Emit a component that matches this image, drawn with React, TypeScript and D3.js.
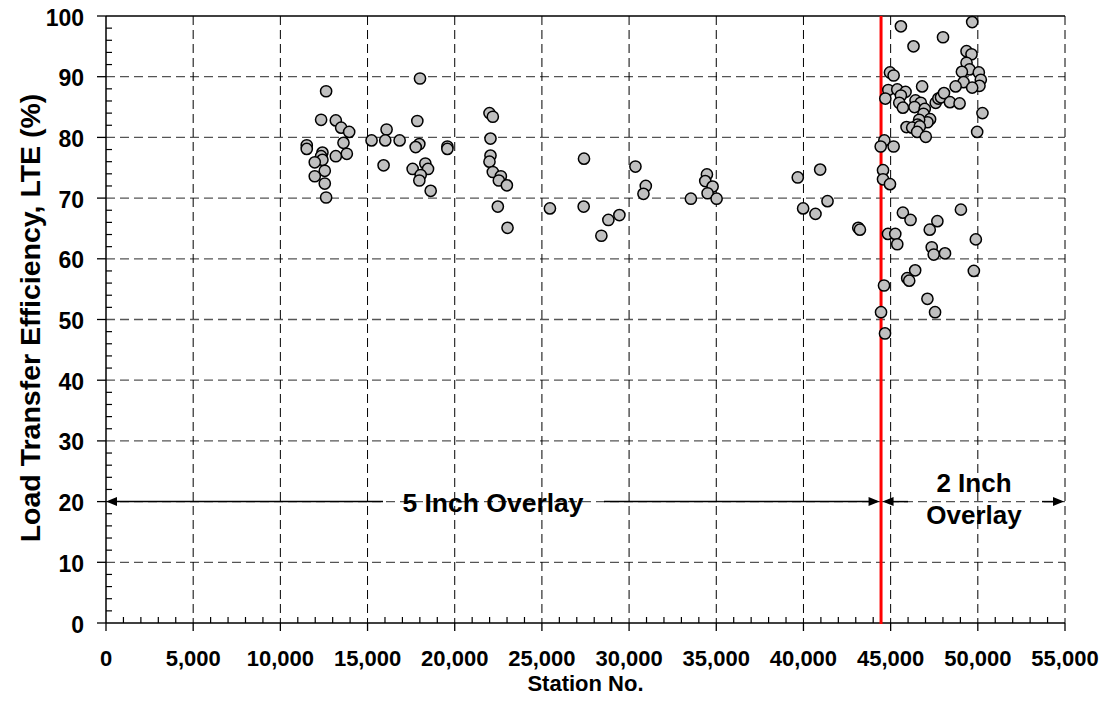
import React from "react";
import * as d3 from "d3";

const stationNo: number[] = [
  11513, 11513, 12624, 12337, 13180, 13486, 13946, 13620, 13812, 13180, 12413, 12337, 12413, 11973, 12547, 11973, 12547, 12624,
  15230, 16092, 16015, 16840, 15920,
  18008, 17855, 17970, 17760, 18315, 18468, 17587, 18047, 17970, 18621, 19579, 19579,
  21993, 22185, 22051, 22051, 21993, 22185, 22645, 22530, 22990, 22472, 23028,
  25460, 27414, 27395, 28812, 29444, 28410, 30364, 30958, 30824, 33544, 34464, 34368, 34790, 34502, 35019,
  39674, 40958, 39981, 40690, 41380, 43142, 43238,
  44639, 44430, 45171, 44563, 44563, 44962, 44620, 44449, 44677, 44848, 45266, 45380,
  45589, 49677, 48004, 46312, 49353, 49638, 49353, 49524, 49087, 50057, 50171, 49182, 50095, 49677, 48726,
  44962, 45171, 44867, 44696, 45380, 45855, 45589, 46806, 45494, 45703, 46426, 46730, 46369, 46958,
  47585, 47737, 47889, 48060, 48403, 48954, 46882, 47262, 47110, 46635, 46540, 45912, 46236, 46673, 46521, 47015,
  50266, 49962,
  45703, 46141, 47680, 47243, 49030, 49886, 47357, 47471, 48117, 49772, 46407, 45950, 46065, 47110, 47547,
];

const lteValues: number[] = [
  78.7, 78.1, 87.6, 82.9, 82.8, 81.6, 80.9, 79.1, 77.3, 76.9, 77.5, 76.9, 76.3, 75.9, 74.5, 73.6, 72.4, 70.1,
  79.5, 81.3, 79.5, 79.5, 75.4,
  89.7, 82.7, 78.9, 78.4, 75.7, 74.8, 74.8, 73.8, 72.9, 71.2, 78.5, 78.1,
  84.0, 83.4, 79.8, 77.0, 76.0, 74.3, 73.6, 72.9, 72.1, 68.6, 65.1,
  68.3, 76.5, 68.6, 66.4, 67.2, 63.8, 75.2, 72.0, 70.7, 69.9, 73.9, 72.8, 71.9, 70.8, 69.9,
  73.4, 74.7, 68.3, 67.4, 69.5, 65.1, 64.8,
  79.5, 78.5, 78.5, 74.6, 73.1, 72.3, 55.6, 51.2, 47.7, 64.1, 64.1, 62.4,
  98.3, 99.0, 96.5, 95.0, 94.2, 93.7, 92.3, 91.2, 90.8, 90.7, 89.5, 89.1, 88.5, 88.2, 88.4,
  90.7, 90.2, 87.8, 86.4, 87.9, 87.5, 86.9, 88.4, 85.7, 84.9, 86.1, 85.7, 85.0, 84.7,
  85.7, 86.4, 86.6, 87.3, 85.8, 85.6, 83.9, 83.0, 82.5, 82.9, 82.1, 81.7, 81.6, 81.8, 80.9, 80.1,
  84.0, 80.9,
  67.6, 66.4, 66.2, 64.8, 68.1, 63.2, 61.9, 60.7, 60.9, 58.0, 58.1, 56.8, 56.4, 53.4, 51.2,
];

const xTicks: number[] = [0, 5000, 10000, 15000, 20000, 25000, 30000, 35000, 40000, 45000, 50000, 55000];
const yTicks: number[] = [0, 10, 20, 30, 40, 50, 60, 70, 80, 90, 100];
const overlayBoundary = 44450;
const arrowLevel = 20;

const W = 1107;
const H = 713;
const L = 106, R = 1065, T = 16, B = 623;
const FONT = "'Liberation Sans', Arial, sans-serif";

export default function App() {
  const x = d3.scaleLinear().domain([0, 55000]).range([L, R]);
  const y = d3.scaleLinear().domain([0, 100]).range([B, T]);
  const xMinor = d3.range(0, 55001, 1000).filter((v) => v % 5000 !== 0);
  const yMinor = d3.range(0, 101, 2).filter((v) => v % 10 !== 0);
  const fmt = d3.format(",");
  const ay = y(arrowLevel);
  const xb = x(overlayBoundary);

  const head = (tipX: number, dir: number) => {
    const len = 11, hw = 4.5;
    return `M${tipX},${ay} L${tipX - dir * len},${ay - hw} L${tipX - dir * len},${ay + hw} Z`;
  };

  return (
    <svg width={W} height={H} style={{ position: "absolute", left: 0, top: 0, background: "#fff" }}>
      {/* horizontal gridlines */}
      {yTicks.filter((v) => v > 0 && v < 100).map((v) => (
        <line key={"hg" + v} x1={L} x2={R} y1={y(v)} y2={y(v)} stroke="#555" strokeWidth={1.3} strokeDasharray="9,5" />
      ))}
      {/* vertical gridlines */}
      {xTicks.filter((v) => v > 0).map((v) => (
        <line key={"vg" + v} x1={x(v)} x2={x(v)} y1={T} y2={B} stroke="#000" strokeWidth={1} strokeDasharray="9,5" />
      ))}
      {/* top border */}
      <line x1={L} x2={R} y1={T} y2={T} stroke="#000" strokeWidth={1.3} />
      {/* axes */}
      <line x1={L} x2={L} y1={T} y2={B} stroke="#000" strokeWidth={1.5} />
      <line x1={L} x2={R} y1={B} y2={B} stroke="#000" strokeWidth={1.5} />
      {yTicks.map((v) => (
        <line key={"yt" + v} x1={L - 9} x2={L} y1={y(v)} y2={y(v)} stroke="#000" strokeWidth={1.3} />
      ))}
      {yMinor.map((v) => (
        <line key={"ym" + v} x1={L} x2={L + 6} y1={y(v)} y2={y(v)} stroke="#000" strokeWidth={1.2} />
      ))}
      {xTicks.map((v) => (
        <line key={"xt" + v} x1={x(v)} x2={x(v)} y1={B} y2={B + 8} stroke="#000" strokeWidth={1.3} />
      ))}
      {xMinor.map((v) => (
        <line key={"xm" + v} x1={x(v)} x2={x(v)} y1={B - 6} y2={B} stroke="#000" strokeWidth={1.2} />
      ))}
      {/* tick labels */}
      {yTicks.map((v) => (
        <text key={"yl" + v} x={84} y={y(v) + 9.5} textAnchor="end" fontFamily={FONT} fontWeight="bold" fontSize={23} fill="#000">
          {v}
        </text>
      ))}
      {xTicks.map((v) => (
        <text key={"xl" + v} x={x(v)} y={666} textAnchor="middle" fontFamily={FONT} fontWeight="bold" fontSize={22} fill="#000">
          {fmt(v)}
        </text>
      ))}
      {/* axis titles */}
      <text x={(L + R) / 2} y={691} textAnchor="middle" fontFamily={FONT} fontWeight="bold" fontSize={22} fill="#000">
        Station No.
      </text>
      <text transform={`translate(40,318) rotate(-90)`} textAnchor="middle" fontFamily={FONT} fontWeight="bold" fontSize={28.5} fill="#000">
        Load Transfer Efficiency, LTE (%)
      </text>
      {/* boundary line */}
      <line x1={xb} x2={xb} y1={T} y2={B + 1} stroke="#ff0000" strokeWidth={3} />
      {/* points */}
      {stationNo.map((s, i) => (
        <circle key={"p" + i} cx={x(s)} cy={y(lteValues[i])} r={5.6} fill="#c0c0c0" stroke="#000" strokeWidth={1.5} />
      ))}
      {/* overlay annotations */}
      <line x1={L + 4} x2={383} y1={ay} y2={ay} stroke="#000" strokeWidth={1.5} />
      <line x1={604} x2={xb - 4} y1={ay} y2={ay} stroke="#000" strokeWidth={1.5} />
      <path d={head(L, -1)} fill="#000" />
      <path d={head(xb - 1.5, 1)} fill="#000" />
      <text x={493} y={ay + 10} textAnchor="middle" fontFamily={FONT} fontWeight="bold" fontSize={26.5} fill="#000">
        5 Inch Overlay
      </text>
      <line x1={xb + 4} x2={908} y1={ay} y2={ay} stroke="#000" strokeWidth={1.5} />
      <line x1={1042} x2={R - 4} y1={ay} y2={ay} stroke="#000" strokeWidth={1.5} />
      <path d={head(xb + 1.5, -1)} fill="#000" />
      <path d={head(R - 1, 1)} fill="#000" />
      <text x={974} y={492} textAnchor="middle" fontFamily={FONT} fontWeight="bold" fontSize={26} fill="#000">
        2 Inch
      </text>
      <text x={974} y={524} textAnchor="middle" fontFamily={FONT} fontWeight="bold" fontSize={26} fill="#000">
        Overlay
      </text>
    </svg>
  );
}
